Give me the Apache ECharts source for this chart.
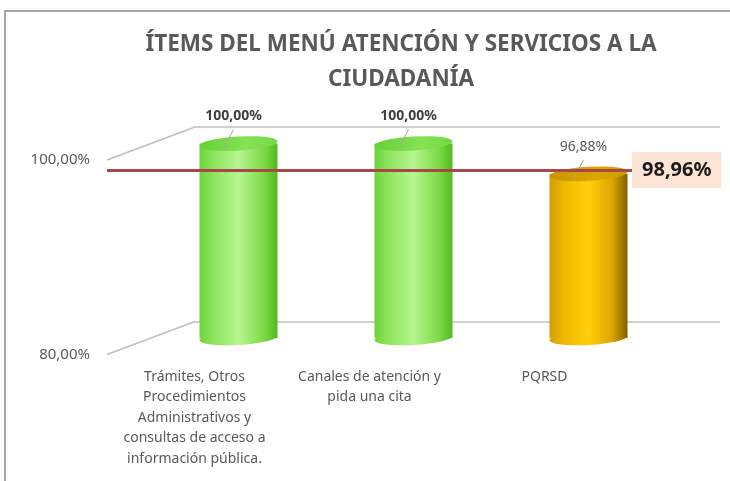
<!DOCTYPE html>
<html>
<head>
<meta charset="utf-8">
<script src="https://cdn.jsdelivr.net/npm/echarts@6/dist/echarts.min.js"></script>
<style>
html, body { margin: 0; padding: 0; background: #fff; }
#chart { width: 730px; height: 481px; }
</style>
</head>
<body>
<div id="chart"></div>
<script>
// data
const categories = [
  'Trámites, Otros\nProcedimientos\nAdministrativos y\nconsultas de acceso a\ninformación pública.',
  'Canales de atención y\npida una cita',
  'PQRSD'
];
const values = [100, 100, 96.88];
const average = 98.96;
const axisMin = 80;
const axisMax = 100;

// fake 3d: half depth offset between middle plane and front/back planes
const DX = 44, DY = 16.5;
const mid = { left: 151, right: 54, top: 143.5, bottom: 143 };
const front = { left: mid.left - DX, right: mid.right + DX, top: mid.top + DY, bottom: mid.bottom - DY };
const back = { left: mid.left + DX, right: mid.right - DX, top: mid.top - DY, bottom: mid.bottom + DY };

const pct = v => v.toFixed(2).replace('.', ',') + '%';
const FONT = "'Noto Sans', 'Open Sans', sans-serif";

const green = {
  body: [[0, '#6ED23A'], [0.18, '#8FE45F'], [0.5, '#B6F58F'], [0.82, '#7DDA48'], [1, '#52BB20']],
  top: [[0, '#66D034'], [0.6, '#86E255'], [1, '#74D842']]
};
const orange = {
  body: [[0, '#D39C00'], [0.18, '#EFB800'], [0.5, '#FFCE0A'], [0.8, '#DDA600'], [1, '#836000']],
  top: [[0, '#C99400'], [0.6, '#DDA700'], [1, '#D09C00']]
};
const grad = stops => new echarts.graphic.LinearGradient(0, 0, 1, 0,
  stops.map(s => ({ offset: s[0], color: s[1] })));

const chart = echarts.init(document.getElementById('chart'));

const option = {
  backgroundColor: '#fff',
  animation: false,
  title: {
    text: 'ÍTEMS DEL MENÚ ATENCIÓN Y SERVICIOS A LA\nCIUDADANÍA',
    left: 396,
    textAlign: 'center',
    top: 22,
    textStyle: { fontFamily: FONT, fontSize: 22.5, fontWeight: 'bold', color: '#595959', lineHeight: 35 }
  },
  graphic: [{
    type: 'rect', x: 5, y: 11, silent: true,
    shape: { x: 0, y: 0, width: 900, height: 700 },
    style: { fill: 'none', stroke: '#8a8a8a', lineWidth: 1.5 }
  }],
  grid: [
    Object.assign({}, mid),
    Object.assign({}, front),
    Object.assign({}, back)
  ],
  xAxis: [
    { type: 'category', gridIndex: 0, data: categories, show: false },
    {
      type: 'category', gridIndex: 1, data: categories,
      axisLine: { show: false }, axisTick: { show: false },
      axisLabel: { interval: 0, margin: 12, fontFamily: FONT, fontSize: 14, lineHeight: 20.5, color: '#595959' }
    },
    { type: 'category', gridIndex: 2, data: categories, show: false }
  ],
  yAxis: [
    { type: 'value', gridIndex: 0, min: axisMin, max: axisMax, interval: 20, show: false },
    {
      type: 'value', gridIndex: 1, min: axisMin, max: axisMax, interval: 20,
      axisLine: { show: false }, axisTick: { show: false }, splitLine: { show: false },
      axisLabel: { margin: 17, fontFamily: FONT, fontSize: 15, color: '#595959', formatter: pct }
    },
    {
      type: 'value', gridIndex: 2, min: axisMin, max: axisMax, interval: 20,
      axisLine: { show: false }, axisTick: { show: false }, axisLabel: { show: false },
      splitLine: { show: true, lineStyle: { color: '#bfbfbf', width: 1.5 } }
    }
  ],
  series: [
    {
      // diagonal floor/side lines joining front labels with back wall
      type: 'custom', xAxisIndex: 1, yAxisIndex: 1, silent: true,
      data: [[0, axisMin], [0, axisMax]],
      renderItem(params, api) {
        const y = api.coord([0, api.value(1)])[1];
        const x = params.coordSys.x;
        return {
          type: 'line',
          shape: { x1: x, y1: y, x2: x + 2 * DX, y2: y - 2 * DY },
          style: { stroke: '#bfbfbf', lineWidth: 1.5 }
        };
      }
    },
    {
      type: 'custom', xAxisIndex: 0, yAxisIndex: 0, silent: true,
      data: values.map((v, i) => [i, v]),
      renderItem(params, api) {
        const v = api.value(1);
        const top = api.coord([api.value(0), v]);
        const base = api.coord([api.value(0), axisMin]);
        const cx = top[0], w = 78, ry = 7, tilt = 0.06;
        const pal = v >= average ? green : orange;
        const body = grad(pal.body);
        return {
          type: 'group',
          children: [
            { type: 'ellipse', x: cx, y: base[1], rotation: tilt,
              shape: { cx: 0, cy: 0, rx: w / 2, ry: ry }, style: { fill: body } },
            { type: 'rect', shape: { x: cx - w / 2, y: top[1], width: w, height: base[1] - top[1] },
              style: { fill: body } },
            { type: 'ellipse', x: cx, y: top[1], rotation: tilt,
              shape: { cx: 0, cy: 0, rx: w / 2, ry: ry }, style: { fill: grad(pal.top) } },
            { type: 'line', shape: { x1: cx - 5, y1: top[1] - 14, x2: cx - 15, y2: top[1] + 5 },
              style: { stroke: '#a6a6a6', lineWidth: 1 } },
            { type: 'text', x: cx - 5, y: top[1] - 27,
              style: {
                text: pct(v), textAlign: 'center', textVerticalAlign: 'middle',
                fontFamily: FONT, fontSize: 14, fontWeight: v >= 100 ? 'bold' : 'normal',
                fill: v >= 100 ? '#404040' : '#595959'
              } }
          ]
        };
      }
    },
    {
      type: 'line', xAxisIndex: 1, yAxisIndex: 1, data: [], silent: true,
      markLine: {
        silent: true, symbol: 'none', animation: false,
        lineStyle: { color: '#A8474A', width: 3, type: 'solid' },
        label: {
          position: 'end', distance: 0, formatter: pct(average),
          fontFamily: FONT, fontSize: 20, fontWeight: 'bold', color: '#1a1a1a',
          backgroundColor: '#FCE4D6', padding: [8, 10, 8, 10]
        },
        data: [{ yAxis: average }]
      }
    }
  ]
};

chart.setOption(option);
</script>
</body>
</html>
